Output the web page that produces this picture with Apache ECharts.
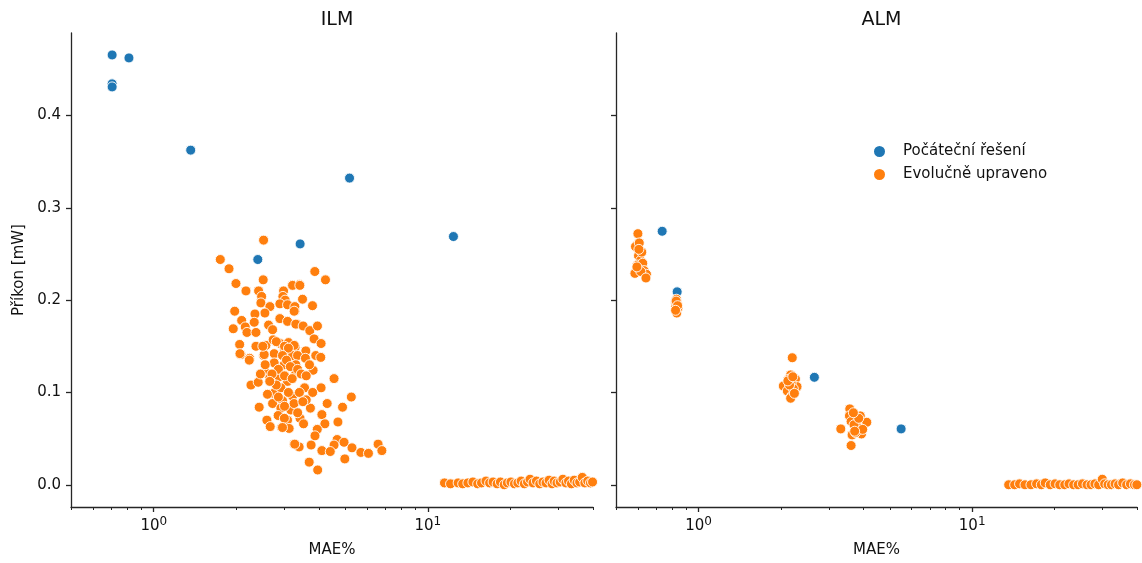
<!DOCTYPE html>
<html>
<head>
<meta charset="utf-8">
<script src="https://cdn.jsdelivr.net/npm/echarts@6/dist/echarts.min.js"></script>
<style>html,body{margin:0;padding:0;background:#fff;}#c{width:1142px;height:563px;}</style>
</head>
<body>
<div id="c"></div>
<script>
// ---- data ----
const panelTitles = ['ILM', 'ALM'];
const seriesNames = ['Počáteční řešení', 'Evolučně upraveno'];
const yTicks = [0, 0.1, 0.2, 0.3, 0.4];
const xMajorTicks = [1, 10];
const xMinorTicks = [0.5, 0.6, 0.7, 0.8, 0.9, 2, 3, 4, 5, 6, 7, 8, 9, 20, 30, 40];

const ilmInitial = [
  [0.705, 0.4656], [0.812, 0.4624], [0.705, 0.4343], [0.705, 0.431], [1.364, 0.3625],
  [5.18, 0.3322], [3.42, 0.2609], [2.397, 0.244], [12.4, 0.2689]
];
const ilmEvolved = [
  [2.516,0.265],[1.749,0.244],[1.882,0.234],[1.995,0.218],[2.508,0.222],[2.170,0.210],[2.413,0.210],
  [2.475,0.204],[2.460,0.197],[2.976,0.210],[2.959,0.204],[3.199,0.216],[3.404,0.217],[3.016,0.200],
  [2.885,0.196],[3.077,0.195],[3.272,0.188],[2.653,0.193],[2.544,0.186],[2.340,0.185],[1.974,0.188],
  [2.093,0.178],[2.326,0.176],[2.157,0.171],[1.950,0.169],[2.188,0.165],[2.360,0.165],[2.624,0.173],
  [2.714,0.168],[2.885,0.180],[3.077,0.177],[3.327,0.174],[2.058,0.152],[2.360,0.150],[2.566,0.151],
  [2.727,0.157],[2.892,0.153],[3.103,0.154],[3.280,0.149],[2.080,0.141],[2.238,0.137],[2.516,0.140],
  [2.751,0.142],[2.991,0.144],[3.210,0.140],
  [3.869,0.231],[4.232,0.222],[3.210,0.216],[3.412,0.216],[3.490,0.201],[3.795,0.194],[3.272,0.193],
  [3.253,0.188],[3.299,0.174],[3.508,0.172],[3.710,0.167],[3.957,0.172],[3.846,0.158],[4.079,0.153],
  [3.253,0.151],[3.588,0.145],[3.347,0.140],[3.901,0.140],[4.068,0.138],
  [2.063,0.142],[2.231,0.135],[2.529,0.141],[2.751,0.132],[2.991,0.130],[3.299,0.130],[2.566,0.121],
  [2.653,0.116],[2.868,0.117],[3.077,0.112],[3.299,0.121],[2.263,0.108],[2.405,0.111],[2.737,0.099],
  [2.910,0.105],[3.210,0.096],[2.951,0.091],[2.714,0.088],[2.425,0.084],[2.910,0.083],[3.164,0.081],
  [2.844,0.075],[3.077,0.070],[2.587,0.070],[2.660,0.063],[2.927,0.062],[3.119,0.061],[3.253,0.044],
  [3.392,0.041],
  [3.576,0.137],[3.814,0.124],[4.548,0.115],[4.079,0.105],[5.258,0.095],[4.293,0.088],[4.884,0.084],
  [3.729,0.083],[4.106,0.076],[3.418,0.072],[4.699,0.068],[4.211,0.066],[3.520,0.066],[3.950,0.060],
  [3.875,0.053],[4.668,0.049],[3.269,0.044],[3.751,0.043],[4.548,0.043],[4.946,0.046],[5.288,0.040],
  [4.106,0.037],[4.406,0.036],[5.697,0.035],[6.072,0.034],[6.584,0.044],[6.797,0.037],[4.979,0.028],
  [3.691,0.0245],[3.964,0.016],[2.996,0.072],[2.949,0.062],
  [2.80,0.155],[3.00,0.150],[3.10,0.148],[2.95,0.140],[3.05,0.135],[3.15,0.128],[2.85,0.125],[2.70,0.120],
  [3.00,0.118],[3.20,0.115],[3.35,0.125],[3.45,0.120],[3.60,0.118],[3.55,0.105],[3.40,0.100],[2.80,0.108],
  [2.65,0.112],[3.10,0.100],[3.25,0.088],[3.00,0.085],[2.85,0.095],[3.60,0.092],[3.80,0.100],[2.55,0.130],
  [2.45,0.120],[3.35,0.078],[3.50,0.090],[2.60,0.098],[2.50,0.150],[3.70,0.130],
  [11.5,0.002],[12.1,0.001],[12.9,0.002],[13.4,0.001],[14.0,0.002],[14.6,0.003],[15.2,0.001],[15.7,0.002],
  [16.3,0.004],[16.8,0.002],[17.3,0.003],[17.9,0.001],[18.4,0.003],[19.0,0.000],[19.5,0.002],[20.1,0.003],
  [20.7,0.001],[21.3,0.002],[21.9,0.004],[22.5,0.001],[23.1,0.003],[23.6,0.006],[24.2,0.002],[24.9,0.004],
  [25.6,0.001],[26.3,0.003],[27.0,0.002],[27.7,0.005],[28.4,0.001],[28.9,0.004],[29.6,0.002],[30.4,0.003],
  [31.1,0.006],[31.9,0.002],[32.6,0.004],[33.4,0.001],[34.2,0.005],[35.0,0.002],[35.8,0.003],[36.6,0.008],
  [37.4,0.002],[38.3,0.004],[39.2,0.002],[39.9,0.003]
];

const almInitial = [
  [0.736, 0.2746], [0.835, 0.209], [2.65, 0.1164], [5.5, 0.0605]
];
const almEvolved = [
  [0.600,0.272],[0.597,0.260],[0.588,0.258],[0.607,0.262],[0.603,0.248],[0.614,0.243],[0.598,0.238],
  [0.625,0.240],[0.632,0.232],[0.585,0.229],[0.645,0.228],[0.615,0.231],[0.642,0.224],[0.595,0.236],
  [0.620,0.252],[0.605,0.255],
  [0.830,0.201],[0.822,0.198],[0.836,0.196],[0.826,0.193],[0.840,0.191],[0.832,0.186],[0.828,0.199],
  [0.838,0.194],[0.824,0.189],
  [2.20,0.1376],[2.17,0.119],[2.13,0.1143],[2.26,0.1146],[2.04,0.107],[2.29,0.1063],[2.11,0.1016],
  [2.19,0.0962],[2.17,0.0937],[2.18,0.110],[2.22,0.104],[2.15,0.108],[2.24,0.099],[2.12,0.1125],[2.21,0.117],
  [3.57,0.0822],[3.56,0.0746],[3.90,0.0746],[4.12,0.0677],[3.61,0.0685],[3.80,0.063],[3.31,0.0605],
  [3.64,0.054],[3.94,0.055],[3.75,0.0566],[3.61,0.0425],[3.70,0.065],[3.85,0.072],[3.68,0.078],
  [3.98,0.060],[3.72,0.058],
  [13.6,0.000],[14.3,0.000],[14.9,0.001],[15.6,0.000],[16.4,0.000],[17.2,0.001],[17.9,0.000],[18.5,0.002],
  [19.3,0.000],[20.1,0.001],[20.9,0.000],[21.8,0.000],[22.6,0.001],[23.5,0.000],[24.4,0.000],[25.3,0.001],
  [26.3,0.000],[27.2,0.000],[28.1,0.001],[29.0,0.000],[29.9,0.006],[30.5,0.001],[31.4,0.000],[32.3,0.000],
  [33.3,0.001],[34.3,0.000],[35.5,0.002],[36.7,0.000],[37.9,0.001],[39.2,0.000],[40.0,0.000]
];

// ---- chart ----
const FONT = 'DejaVu Sans';
const TXT = '#111111';
const AX = '#262626';
const xMin = 0.499, xMax = 40.05;
const yMin = -0.0241, yMax = 0.4894;
const colors = ['#1f77b4', '#ff7f0e'];

const grids = [
  {left: 71, top: 33, width: 522, height: 474},
  {left: 616, top: 33, width: 521, height: 474}
];

const xAxes = [], yAxes = [], series = [], titles = [];
grids.forEach((g, i) => {
  // data axis (log)
  xAxes.push({
    type: 'log', logBase: 10, gridIndex: i, min: xMin, max: xMax, position: 'bottom',
    axisLine: {show: true, onZero: false, lineStyle: {color: AX, width: 1.3}},
    axisTick: {show: false}, axisLabel: {show: false}, splitLine: {show: false}, minorTick: {show: false},
    name: 'MAE%', nameLocation: 'middle', nameGap: 36,
    nameTextStyle: {fontFamily: FONT, fontSize: 15, color: TXT}
  });
  // major ticks + labels (in log10 space)
  xAxes.push({
    type: 'value', gridIndex: i, min: Math.log10(xMin), max: Math.log10(xMax), position: 'bottom',
    axisLine: {show: false, onZero: false}, splitLine: {show: false},
    axisTick: {show: true, length: 5, customValues: xMajorTicks.map(Math.log10), lineStyle: {color: AX, width: 1.3}},
    axisLabel: {show: true, customValues: xMajorTicks.map(Math.log10), margin: 9,
      fontFamily: FONT, fontSize: 15, color: TXT,
      formatter: v => '{b|10}{s|' + Math.round(v) + '}',
      rich: {
        b: {fontFamily: FONT, fontSize: 15, color: TXT},
        s: {fontFamily: FONT, fontSize: 12, color: TXT, padding: [0, 0, 9, 0]}
      }}
  });
  // minor ticks
  xAxes.push({
    type: 'value', gridIndex: i, min: Math.log10(xMin), max: Math.log10(xMax), position: 'bottom',
    axisLine: {show: false, onZero: false}, splitLine: {show: false}, axisLabel: {show: false},
    axisTick: {show: true, length: 3, customValues: xMinorTicks.map(Math.log10), lineStyle: {color: AX, width: 1}}
  });
  yAxes.push({
    type: 'value', gridIndex: i, min: yMin, max: yMax, position: 'left',
    axisLine: {show: true, onZero: false, lineStyle: {color: AX, width: 1.3}},
    splitLine: {show: false},
    axisTick: {show: true, length: 5, customValues: yTicks, lineStyle: {color: AX, width: 1.3}},
    axisLabel: {show: i === 0, customValues: yTicks, margin: 10, fontFamily: FONT, fontSize: 15, color: TXT,
      formatter: v => v.toFixed(1)},
    name: i === 0 ? 'Příkon [mW]' : '', nameLocation: 'middle', nameGap: 44,
    nameTextStyle: {fontFamily: FONT, fontSize: 15, color: TXT}
  });
  titles.push({
    text: panelTitles[i], left: g.left + g.width / 2, top: 6, textAlign: 'center',
    textStyle: {fontFamily: FONT, fontSize: 19, fontWeight: 'normal', color: TXT}
  });
});

const panelData = [[ilmInitial, ilmEvolved], [almInitial, almEvolved]];
panelData.forEach((pd, i) => {
  pd.forEach((d, k) => {
    series.push({
      type: 'scatter', name: seriesNames[k], xAxisIndex: i * 3, yAxisIndex: i,
      data: d, symbol: 'circle', symbolSize: 10,
      itemStyle: {color: colors[k], borderColor: '#ffffff', borderWidth: 0.9, opacity: 1},
      emphasis: {disabled: true}
    });
  });
});

const chart = echarts.init(document.getElementById('c'), null, {renderer: 'canvas'});
chart.setOption({
  animation: false,
  backgroundColor: '#ffffff',
  title: titles,
  grid: grids,
  xAxis: xAxes,
  yAxis: yAxes,
  legend: {
    orient: 'vertical', left: 867, top: 139, itemWidth: 13, itemHeight: 13, itemGap: 8,
    icon: 'circle', data: seriesNames,
    textStyle: {fontFamily: FONT, fontSize: 15, color: TXT, padding: [0, 0, 0, 12]}
  },
  series: series
});
</script>
</body>
</html>
